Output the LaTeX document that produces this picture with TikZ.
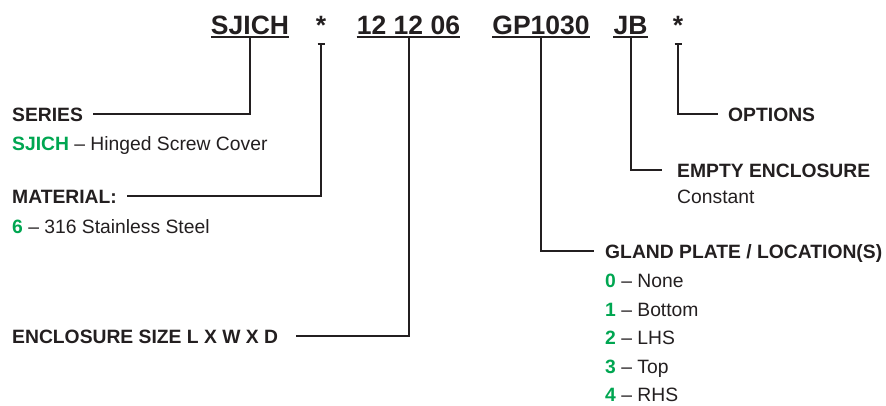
\documentclass[tikz,border=0pt]{standalone}
\usepackage{fontspec}
\setmainfont{Liberation Sans}
\usetikzlibrary{calc}
\definecolor{ink}{HTML}{231F20}
\definecolor{grn}{HTML}{00A651}
\begin{document}
\begin{tikzpicture}[x=1pt,y=-1pt,
  hdr/.style={anchor=base, inner sep=0pt, text depth=0pt, font=\fontsize{26.5}{30}\selectfont\bfseries, text=ink},
  lbl/.style={anchor=base west, inner sep=0pt, text depth=0pt, font=\fontsize{19.3}{22}\selectfont\bfseries, text=ink},
  txt/.style={anchor=base west, inner sep=0pt, font=\fontsize{19.3}{22}\selectfont, text=ink},
  wire/.style={draw=ink, line width=2pt, line join=miter},
]
\useasboundingbox (0,0) rectangle (886,405);

% header code
\node[hdr] (h1) at (250,34) {SJICH};
\node[hdr] (h2) at (321,34) {*};
\node[hdr] (h3) at (408.5,34) {12 12 06};
\node[hdr] (h4) at (541,34) {GP1030};
\node[hdr] (h5) at (630.5,34) {JB};
\node[hdr] (h6) at (678,34) {*};

\foreach \h in {h1,h3,h4,h5}{
  \draw[wire] ([yshift=-3pt]\h.south west) -- ([yshift=-3pt]\h.south east);
}
\foreach \h in {h2,h6}{
  \draw[wire] ([shift={(-3.5pt,-10pt)}]\h.south) -- ([shift={(3.5pt,-10pt)}]\h.south);
}

% left labels
\node[lbl] (series) at (12,121) {SERIES};
\node[txt] (seriesA) at (12,150) {\textcolor{grn}{\bfseries SJICH} -- Hinged Screw Cover};
\node[lbl] (material) at (12,203) {MATERIAL:};
\node[txt] (materialA) at (12,233) {\textcolor{grn}{\bfseries 6} -- 316 Stainless Steel};
\node[lbl] (size) at (12,343) {ENCLOSURE SIZE L X W X D};

% right labels
\node[lbl] (options) at (728,121) {OPTIONS};
\node[lbl] (empty) at (677,177) {EMPTY ENCLOSURE};
\node[txt] (emptyA) at (677,203) {Constant};
\node[lbl] (gland) at (605,258) {GLAND PLATE / LOCATION(S)};
\node[txt] (g0) at (605,287) {\textcolor{grn}{\bfseries 0} -- None};
\node[txt] (g1) at (605,316) {\textcolor{grn}{\bfseries 1} -- Bottom};
\node[txt] (g2) at (605,344.5) {\textcolor{grn}{\bfseries 2} -- LHS};
\node[txt] (g3) at (605,373) {\textcolor{grn}{\bfseries 3} -- Top};
\node[txt] (g4) at (605,401.5) {\textcolor{grn}{\bfseries 4} -- RHS};

% connectors
\draw[wire] ([yshift=-3pt]h1.south) |- ([xshift=10pt]series.east);
\draw[wire] ([yshift=-10pt]h2.south) |- ([xshift=10pt]material.east);
\draw[wire] ([yshift=-3pt]h3.south) |- ([xshift=18pt]size.east);
\draw[wire] ([yshift=-3pt]h4.south) |- ([xshift=-11pt]gland.west);
\draw[wire] ([yshift=-3pt]h5.south) |- ([xshift=-15pt]empty.west);
\draw[wire] ([yshift=-10pt]h6.south) |- ([xshift=-10pt]options.west);
\end{tikzpicture}
\end{document}
